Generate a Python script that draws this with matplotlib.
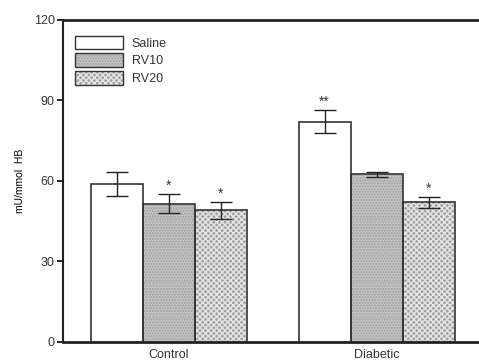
import numpy as np
import matplotlib.pyplot as plt
from matplotlib.patches import Patch

plt.rcParams['font.family'] = ['Liberation Sans', 'DejaVu Sans']
plt.rcParams['text.color'] = '#333333'
plt.rcParams['xtick.labelcolor'] = '#333333'
plt.rcParams['ytick.labelcolor'] = '#333333'

groups = ['Control', 'Diabetic']
series = ['Saline', 'RV10', 'RV20']
means = {'Saline': [59, 82], 'RV10': [51.5, 62.5], 'RV20': [49, 52]}
errs = {'Saline': [4.5, 4.3], 'RV10': [3.5, 1.0], 'RV20': [3.0, 2.0]}
stars = {'Saline': ['', '**'], 'RV10': ['*', ''], 'RV20': ['*', '*']}

face = {'Saline': 'white', 'RV10': '#c4c4c4', 'RV20': '#a0a0a0'}
hatch = {'Saline': None, 'RV10': '......', 'RV20': 'xxxxxx'}
hcol = {'Saline': 'black', 'RV10': '#9e9e9e', 'RV20': '#e6e6e6'}

fig = plt.figure(figsize=(4.79, 3.63), dpi=100)
ax = fig.add_axes([0.1315, 0.058, 0.8685, 0.887])

handles = []
for i, s in enumerate(series):
    x = np.arange(len(groups)) * 4 + i
    # hatch layer then dark outline
    ax.bar(x, means[s], width=1.0, color=face[s], hatch=hatch[s],
           edgecolor=hcol[s], linewidth=0, zorder=2)
    ax.bar(x, means[s], width=1.0, fill=False, edgecolor='#333333',
           linewidth=1.2, zorder=3)
    ax.errorbar(x, means[s], yerr=errs[s], fmt='none', ecolor='#222222',
                elinewidth=1, capsize=8, capthick=1, zorder=4)
    for xi, m, e, st in zip(x, means[s], errs[s], stars[s]):
        if st:
            ax.text(xi, m + e + 0.6, st, ha='center', va='bottom', fontsize=10)
    handles.append((Patch(facecolor=face[s], hatch=hatch[s], edgecolor=hcol[s], linewidth=0),
                    Patch(fill=False, edgecolor='#333333', linewidth=1)))

ax.legend(handles, series, loc='upper left', frameon=False, fontsize=9,
          handlelength=3.8, handleheight=1.3, labelspacing=0.3,
          handletextpad=0.7, bbox_to_anchor=(0.0, 0.99), borderaxespad=0.6)

ax.set_xlim(-1.03, 6.97)
ax.set_ylim(0, 120)
ax.set_yticks([0, 30, 60, 90, 120])
ax.set_xticks([1, 5])
ax.set_xticklabels(groups)
ax.tick_params(axis='x', length=0, pad=5, labelsize=9)
ax.tick_params(axis='y', length=4, width=1.2, labelsize=9, pad=2)
ax.set_ylabel('mU/mmol  HB', fontsize=7.5, labelpad=6)

ax.spines['right'].set_visible(False)
ax.spines['top'].set_linewidth(2)
ax.spines['bottom'].set_linewidth(2)
ax.spines['left'].set_linewidth(1.5)
for sp in ax.spines.values():
    sp.set_color('#222222')

fig.savefig('out.png', dpi=100)
